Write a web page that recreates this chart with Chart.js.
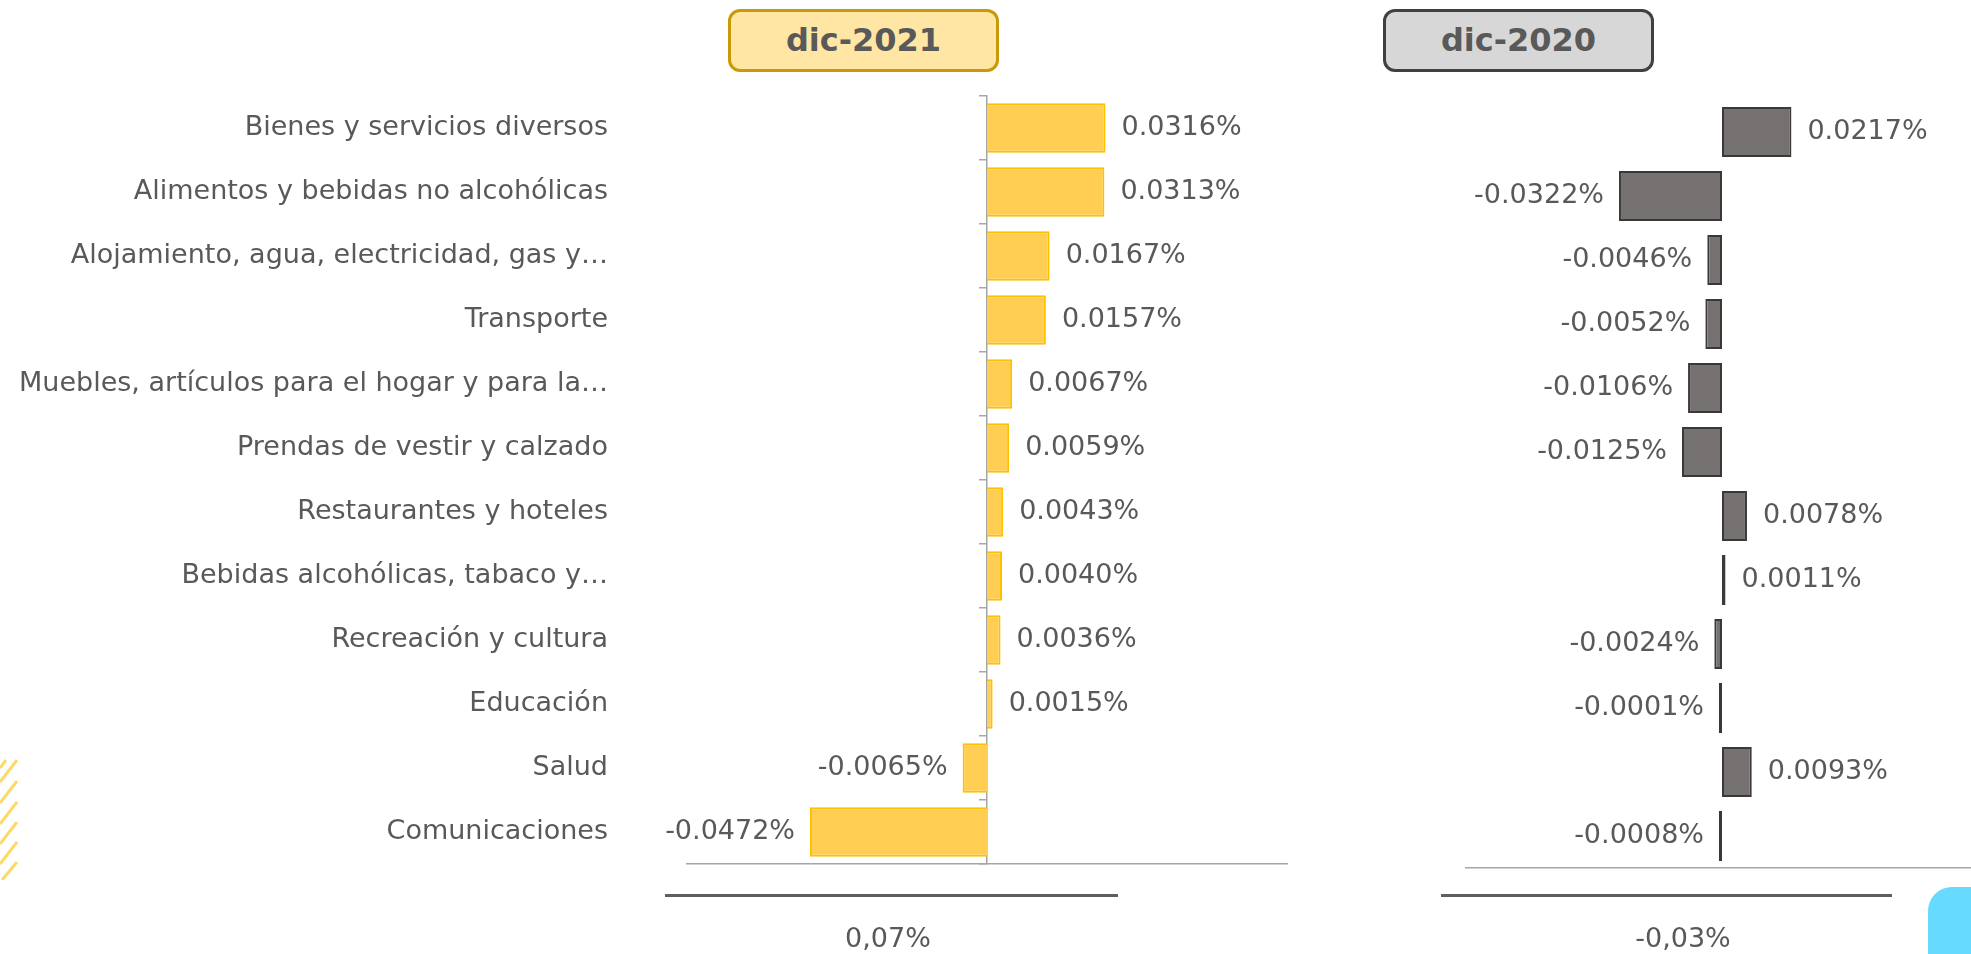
<!DOCTYPE html>
<html lang="es">
<head>
<meta charset="utf-8">
<title>Incidencias dic-2021 / dic-2020</title>
<script src="https://cdn.jsdelivr.net/npm/chart.js@4.4.1/dist/chart.umd.min.js"></script>
<style>
  html, body { margin: 0; padding: 0; background: #fff; }
  body { width: 1971px; height: 954px; position: relative; overflow: hidden; font-family: "DejaVu Sans", sans-serif; color: #595959; }
  canvas { position: absolute; left: 0; top: 0; }
  .titulo { position: absolute; top: 9px; width: 271px; height: 63px; box-sizing: border-box; border-radius: 12px; border: 3px solid; font-weight: bold; font-size: 32px; line-height: 57px; text-align: center; color: #595959; }
  .t2021 { left: 728px; background: #FFE6A5; border-color: #C9990A; }
  .t2020 { left: 1383px; background: #D8D7D7; border-color: #404040; }
  .linea { position: absolute; top: 894px; height: 3px; background: #5f5f5f; }
  .total { position: absolute; top: 922px; font-size: 27px; width: 200px; text-align: center; }
  .azul { position: absolute; left: 1928px; top: 887px; width: 80px; height: 90px; background: #66DBFF; border-radius: 24px 24px 0 0; }
  .rayas { position: absolute; left: 0; top: 740px; }
</style>
</head>
<body>
<canvas id="chart2021" width="1971" height="954"></canvas>
<canvas id="chart2020" width="1990" height="954"></canvas>

<div class="titulo t2021">dic-2021</div>
<div class="titulo t2020">dic-2020</div>

<div class="linea" style="left:665px;width:453px"></div>
<div class="linea" style="left:1441px;width:451px"></div>
<div class="total" id="total2021" style="left:788px"></div>
<div class="total" id="total2020" style="left:1583px"></div>

<svg class="rayas" width="24" height="140">
  <g stroke="#FFD966" stroke-width="3">
    <line x1="0" y1="28" x2="6" y2="20"/>
    <line x1="0" y1="42" x2="17" y2="20"/>
    <line x1="0" y1="63" x2="17" y2="41"/>
    <line x1="0" y1="84" x2="17" y2="62"/>
    <line x1="0" y1="104" x2="17" y2="82"/>
    <line x1="0" y1="124" x2="17" y2="102"/>
    <line x1="2" y1="140" x2="17" y2="122"/>
  </g>
</svg>
<div class="azul"></div>

<script>
// --- Datos ---
const categorias = [
  'Bienes y servicios diversos',
  'Alimentos y bebidas no alcohólicas',
  'Alojamiento, agua, electricidad, gas y…',
  'Transporte',
  'Muebles, artículos para el hogar y para la…',
  'Prendas de vestir y calzado',
  'Restaurantes y hoteles',
  'Bebidas alcohólicas, tabaco y…',
  'Recreación y cultura',
  'Educación',
  'Salud',
  'Comunicaciones'
];
const valores2021 = [0.0316, 0.0313, 0.0167, 0.0157, 0.0067, 0.0059, 0.0043, 0.0040, 0.0036, 0.0015, -0.0065, -0.0472];
const valores2020 = [0.0217, -0.0322, -0.0046, -0.0052, -0.0106, -0.0125, 0.0078, 0.0011, -0.0024, -0.0001, 0.0093, -0.0008];
const totales = ['0,07%', '-0,03%'];

document.getElementById('total2021').textContent = totales[0];
document.getElementById('total2020').textContent = totales[1];

const GRIS_TEXTO = '#595959';
const FUENTE = '"DejaVu Sans", sans-serif';

// etiquetas de valor al final de cada barra
const etiquetasValor = {
  id: 'etiquetasValor',
  afterDatasetsDraw(chart) {
    const ctx = chart.ctx;
    const meta = chart.getDatasetMeta(0);
    const datos = chart.data.datasets[0].data;
    ctx.save();
    ctx.font = '27px ' + FUENTE;
    ctx.fillStyle = GRIS_TEXTO;
    ctx.textBaseline = 'middle';
    meta.data.forEach((barra, i) => {
      const v = datos[i];
      const neg = v < 0;
      ctx.textAlign = neg ? 'right' : 'left';
      ctx.fillText(v.toFixed(4) + '%', barra.x + (neg ? -15 : 16), barra.y);
    });
    ctx.restore();
  }
};

// --- dic-2021 ---
new Chart(document.getElementById('chart2021'), {
  type: 'bar',
  data: {
    labels: categorias,
    datasets: [{
      data: valores2021,
      backgroundColor: '#FFCE52',
      borderColor: '#FFC000',
      borderWidth: 2,
      categoryPercentage: 1,
      barPercentage: 0.77
    }]
  },
  options: {
    indexAxis: 'y',
    responsive: false,
    animation: false,
    layout: { padding: { left: 0, right: 684, top: 96, bottom: 90 } },
    plugins: { legend: { display: false }, tooltip: { enabled: false } },
    scales: {
      x: {
        min: -0.08,
        max: 0.08,
        ticks: { display: false },
        grid: { display: false },
        border: { display: true, color: '#A6A6A6', width: 1.5 },
        afterFit: (s) => { s.height = 0; }
      },
      y: {
        position: 'left',
        grid: { display: false },
        border: { display: false },
        ticks: { color: GRIS_TEXTO, font: { family: FUENTE, size: 27 }, padding: 71 },
        afterFit: (s) => { s.width = 687; }
      },
      yz: {
        type: 'category',
        axis: 'y',
        position: { x: 0 },
        offset: true,
        ticks: { display: false },
        grid: { offset: true, drawOnChartArea: false, drawTicks: true, tickLength: 7, color: '#A6A6A6', lineWidth: 1.5 },
        border: { display: true, color: '#A6A6A6', width: 1.5 },
        afterFit: (s) => { s.width = 0; }
      }
    }
  },
  plugins: [etiquetasValor]
});

// --- dic-2020 ---
new Chart(document.getElementById('chart2020'), {
  type: 'bar',
  data: {
    labels: categorias,
    datasets: [{
      data: valores2020,
      backgroundColor: '#767171',
      borderColor: '#3B3838',
      borderWidth: 2,
      borderSkipped: false,
      minBarLength: 3,
      categoryPercentage: 1,
      barPercentage: 0.78
    }]
  },
  options: {
    indexAxis: 'y',
    responsive: false,
    animation: false,
    layout: { padding: { left: 1466, right: 12, top: 100, bottom: 86 } },
    plugins: { legend: { display: false }, tooltip: { enabled: false } },
    scales: {
      x: {
        min: -0.08,
        max: 0.08,
        ticks: { display: false },
        grid: { display: false },
        border: { display: true, color: '#A6A6A6', width: 1.5 },
        afterFit: (s) => { s.height = 0; }
      },
      y: { display: false }
    }
  },
  plugins: [etiquetasValor]
});
</script>
</body>
</html>
